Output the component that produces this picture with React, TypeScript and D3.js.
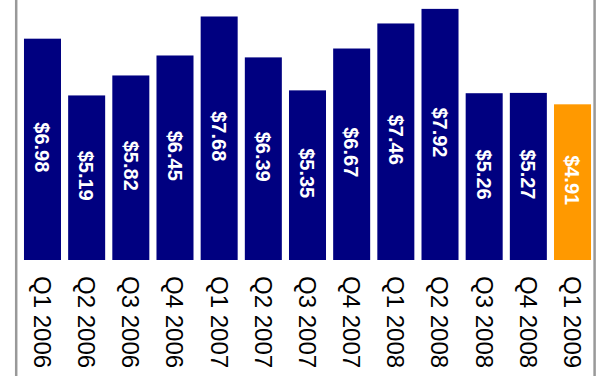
import React from "react";
import * as d3 from "d3";

const categories = [
  "Q1 2006", "Q2 2006", "Q3 2006", "Q4 2006",
  "Q1 2007", "Q2 2007", "Q3 2007", "Q4 2007",
  "Q1 2008", "Q2 2008", "Q3 2008", "Q4 2008",
  "Q1 2009",
];
const values = [6.98, 5.19, 5.82, 6.45, 7.68, 6.39, 5.35, 6.67, 7.46, 7.92, 5.26, 5.27, 4.91];
const highlightIndex = 12;

const W = 597;
const H = 376;

export default function App() {
  const x = d3
    .scaleBand<string>()
    .domain(categories)
    .range([20.4, 594.6])
    .paddingInner(0.162)
    .paddingOuter(0.081);
  const y = d3.scaleLinear().domain([0, 8.2]).range([260, 0]);
  const fmt = (v: number) => "$" + d3.format(".2f")(v);

  return (
    <svg
      width={W}
      height={H}
      style={{ position: "absolute", left: 0, top: 0, background: "#fff" }}
      fontFamily="Liberation Sans, Arial, sans-serif"
    >
      <rect x={0} y={0} width={W} height={H} fill="#fff" />
      <line x1={16.2} x2={16.2} y1={0} y2={H} stroke="#999" strokeWidth={2.5} />
      <line x1={594.6} x2={594.6} y1={0} y2={H} stroke="#999" strokeWidth={2.5} />
      {categories.map((c, i) => {
        const bx = x(c)!;
        const bw = x.bandwidth();
        const top = y(values[i]);
        const bottom = y(0);
        const cx = bx + bw / 2;
        const cy = (top + bottom) / 2;
        return (
          <g key={c}>
            <rect
              x={bx}
              y={top}
              width={bw}
              height={bottom - top}
              fill={i === highlightIndex ? "#FF9900" : "#000080"}
            />
            <text
              transform={`translate(${cx},${cy - 2}) rotate(90)`}
              textAnchor="middle"
              dy="0.36em"
              fill="#fff"
              fontWeight="bold"
              fontSize={20}
            >
              {fmt(values[i])}
            </text>
            <text
              transform={`translate(${cx},276) rotate(90)`}
              textAnchor="start"
              dy="0.36em"
              fill="#000"
              fontSize={24}
            >
              {c}
            </text>
          </g>
        );
      })}
    </svg>
  );
}
